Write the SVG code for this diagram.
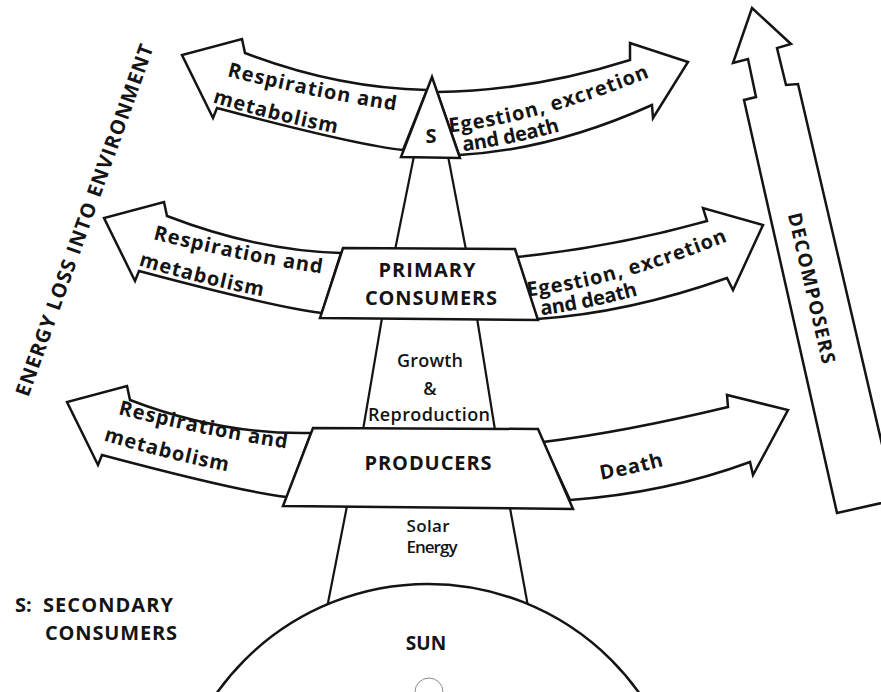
<svg xmlns="http://www.w3.org/2000/svg" xmlns:xlink="http://www.w3.org/1999/xlink" width="881" height="692" viewBox="0 0 881 692">
<style>
.shape{fill:#fff;stroke:#141414;stroke-width:2.5;stroke-linejoin:miter}
.ln{fill:none;stroke:#141414;stroke-width:2.2}
.b{font-family:"Open Sans","Noto Sans","DejaVu Sans",sans-serif;font-weight:700;fill:#141414}
.sb{font-family:"Open Sans","Noto Sans","DejaVu Sans",sans-serif;font-weight:600;fill:#141414}
.arr{font-family:"Open Sans","Noto Sans","DejaVu Sans",sans-serif;font-weight:700;fill:#141414;font-size:20px;letter-spacing:1px}
.arr2{font-family:"Open Sans","Noto Sans","DejaVu Sans",sans-serif;font-weight:700;fill:#141414;font-size:20px;letter-spacing:-0.3px}
.c{text-anchor:middle}
</style>
<defs>
<path id="tpTL1" d="M 212,72 Q 305,97 412,113"/>
<path id="tpTL2" d="M 205,100 Q 275,122 345,135"/>
<path id="tpML1" d="M 138,235 Q 231,260 338,276"/>
<path id="tpML2" d="M 131,263 Q 201,285 271,298"/>
<path id="tpBL1" d="M 103,410 Q 196,435 303,451"/>
<path id="tpBL2" d="M 96,438 Q 166,460 236,473"/>
<path id="tpTR1" d="M 445,133 Q 535,124 655,75"/>
<path id="tpTR2" d="M 458,152 Q 512,145 565,130"/>
<path id="tpMR1" d="M 523,297 Q 613,288 733,239"/>
<path id="tpMR2" d="M 536,316 Q 590,309 643,294"/>
<path id="tpD" d="M 588,482 Q 633,475 678,462"/>
</defs>
<rect width="881" height="692" fill="#fff"/>

<g id="connectors">
<line class="ln" x1="414" y1="156" x2="395" y2="250"/>
<line class="ln" x1="448" y1="156" x2="466" y2="250"/>
<line class="ln" x1="382" y1="318" x2="363" y2="430"/>
<line class="ln" x1="477" y1="318" x2="495" y2="430"/>
<line class="ln" x1="347" y1="506" x2="327" y2="608"/>
<line class="ln" x1="510" y1="508" x2="529" y2="612"/>
</g>

<g id="node-sun">
<circle class="shape" cx="428" cy="843" r="259"/>
<text class="b c" x="426" y="650" font-size="19">SUN</text>
<circle cx="429" cy="692" r="14" fill="none" stroke="#8a8a8a" stroke-width="1"/>
</g>

<g id="flow-resp-top">
<path class="shape" d="M 427,90 Q 336,88 245,53 L 242,39 L 182,55 L 213,118 L 217,108 Q 356,145 403,150 Z"/>
<text class="arr"><textPath href="#tpTL1" startOffset="50%" text-anchor="middle">Respiration and</textPath></text>
<text class="arr"><textPath href="#tpTL2" startOffset="50%" text-anchor="middle">metabolism</textPath></text>
</g>
<g id="flow-egest-top">
<path class="shape" d="M 437,92 Q 532,91 630,60 L 630,43 L 688,62 L 653,118 L 652,105 Q 552,150 459,155 Z"/>
<text class="arr"><textPath href="#tpTR1" startOffset="50%" text-anchor="middle">Egestion, excretion</textPath></text>
<text class="arr2"><textPath href="#tpTR2" startOffset="50%" text-anchor="middle">and death</textPath></text>
</g>
<g id="flow-resp-mid">
<path class="shape" d="M 341,253 Q 258,251 167,216 L 164,202 L 104,218 L 135,281 L 139,271 Q 278,308 322,313 Z"/>
<text class="arr"><textPath href="#tpML1" startOffset="50%" text-anchor="middle">Respiration and</textPath></text>
<text class="arr"><textPath href="#tpML2" startOffset="50%" text-anchor="middle">metabolism</textPath></text>
</g>
<g id="flow-egest-mid">
<path class="shape" d="M 517,257 Q 614,247 707,221 L 703,208 L 763,225 L 733,290 L 727,278 Q 628,313 537,319 Z"/>
<text class="arr"><textPath href="#tpMR1" startOffset="50%" text-anchor="middle">Egestion, excretion</textPath></text>
<text class="arr2"><textPath href="#tpMR2" startOffset="50%" text-anchor="middle">and death</textPath></text>
</g>
<g id="flow-resp-bottom">
<path class="shape" d="M 311,433 Q 221,435 130,400 L 127,386 L 67,402 L 98,465 L 102,455 Q 241,492 287,497 Z"/>
<text class="arr"><textPath href="#tpBL1" startOffset="50%" text-anchor="middle">Respiration and</textPath></text>
<text class="arr"><textPath href="#tpBL2" startOffset="50%" text-anchor="middle">metabolism</textPath></text>
</g>
<g id="flow-death">
<path class="shape" d="M 543,442 Q 624,432 728,407 L 727,395 L 788,410 L 753,475 L 750,462 Q 666,493 570,500 Z"/>
<text class="arr"><textPath href="#tpD" startOffset="50%" text-anchor="middle">Death</textPath></text>
</g>

<g id="node-secondary">
<path class="shape" d="M 432,77 L 460,158 L 401,157 Z"/>
<text class="b c" x="431" y="143" font-size="20">S</text>
</g>

<g id="node-primary">
<path class="shape" d="M 343,248 L 515,249 L 538,320 L 320,318 Z"/>
<text class="b c" x="427" y="277" font-size="20" textLength="97">PRIMARY</text>
<text class="b c" x="431" y="305" font-size="20" textLength="132">CONSUMERS</text>
</g>

<g id="label-growth">
<text class="sb c" x="430" y="367" font-size="18" textLength="66">Growth</text>
<text class="sb c" x="430" y="395" font-size="18">&amp;</text>
<text class="sb c" x="429" y="421" font-size="18" textLength="122">Reproduction</text>
</g>

<g id="node-producers">
<path class="shape" d="M 313,428 L 538,429 L 573,509 L 283,506 Z"/>
<text class="b c" x="428" y="470" font-size="20" textLength="127">PRODUCERS</text>
</g>

<g id="label-solar">
<text class="sb c" x="428" y="532" font-size="17" textLength="43">Solar</text>
<text class="sb c" x="432" y="553" font-size="17" textLength="51">Energy</text>
</g>

<g id="node-decomposers">
<path class="shape" d="M 752,8 L 791,44 L 777,48 L 786,85 L 798,84 L 895,500 L 837,513 L 744,100 L 756,97 L 748,59 L 733,63 Z"/>
<text class="b c" transform="translate(812,288) rotate(77)" font-size="19" dominant-baseline="central" textLength="154">DECOMPOSERS</text>
</g>

<g id="label-energy-loss">
<text class="b c" transform="translate(84,220) rotate(-70.3)" font-size="20" dominant-baseline="central" textLength="372">ENERGY LOSS INTO ENVIRONMENT</text>
</g>

<g id="legend">
<text class="b" x="15" y="612" font-size="20">S:</text>
<text class="b" x="43" y="612" font-size="20" textLength="130">SECONDARY</text>
<text class="b" x="45" y="640" font-size="20" textLength="132">CONSUMERS</text>
</g>
</svg>
